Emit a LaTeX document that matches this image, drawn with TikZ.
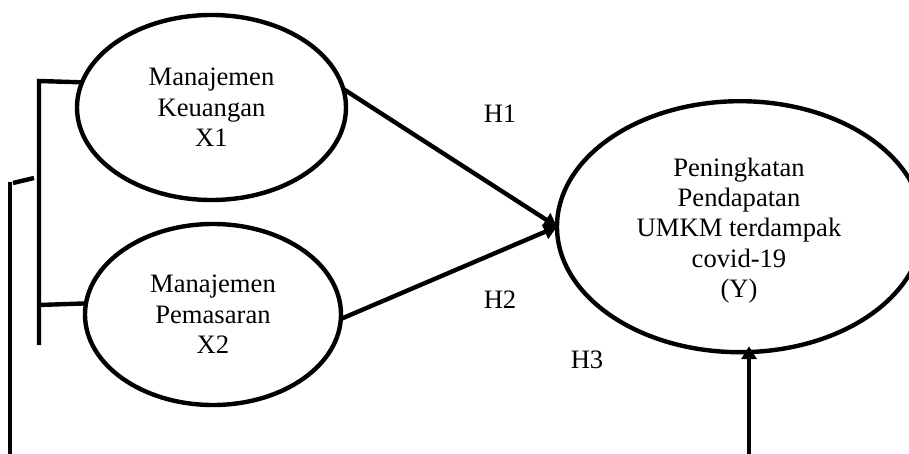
\documentclass[tikz,border=0pt]{standalone}
\usepackage{fontspec}
\setmainfont{Liberation Serif}
\usetikzlibrary{arrows.meta,shapes.geometric,calc}
\begin{document}
\begin{tikzpicture}[x=0.5pt,y=-0.5pt, line width=2.2pt,
  latent/.style={draw, ellipse, inner sep=0pt, outer sep=0pt, align=center,
    font=\fontsize{13.3pt}{15.3pt}\selectfont},
  txt/.style={inner sep=0pt, align=center, font=\fontsize{13.3pt}{15.1pt}\selectfont},
  lbl/.style={anchor=base, inner sep=0pt, font=\fontsize{13.3pt}{15.3pt}\selectfont},
  arr/.style={-{Triangle[width=7.5pt,length=6.5pt]}}]
\useasboundingbox (0,0) rectangle (909,454);
% latent variables
\node[latent, minimum width=134.5pt, minimum height=92.5pt] (X1) at (211.5,107.5) {Manajemen\\Keuangan\\X1};
\node[latent, minimum width=128pt, minimum height=90.5pt] (X2) at (213,314.5) {Manajemen\\Pemasaran\\X2};
\node[latent, minimum width=183pt, minimum height=125.5pt] (Y) at (740,226.7) {};
\node[txt] (Ytext) at (739,230.5) {Peningkatan\\Pendapatan\\UMKM terdampak\\covid-19\\(Y)};
% bracket
\coordinate (btop) at (39,81);
\coordinate (bbot) at (39,345);
\coordinate (bmid) at (39,305);
\draw (X1.169) -- (btop) -- (bbot);
\draw (bmid) -- (X2.175);
\coordinate (ltop) at (10,182);
\coordinate (lbot) at (10,454);
\draw (ltop) -- (lbot);
\coordinate (s1) at (13,183);
\coordinate (s2) at (34,178);
\draw (s1) -- (s2);
% paths
\draw[arr] (X1.8) -- (Y.west);
\draw[arr] (X2.-2) -- (Y.west);
\coordinate (rb) at (749,454);
\draw[arr] (rb) -- ($(Y.south -| rb)+(0,-6)$);
% labels
\node[lbl] (H1) at (500,123) {H1};
\node[lbl] (H2) at (500,308) {H2};
\node[lbl] (H3) at (587,368) {H3};
\end{tikzpicture}
\end{document}
